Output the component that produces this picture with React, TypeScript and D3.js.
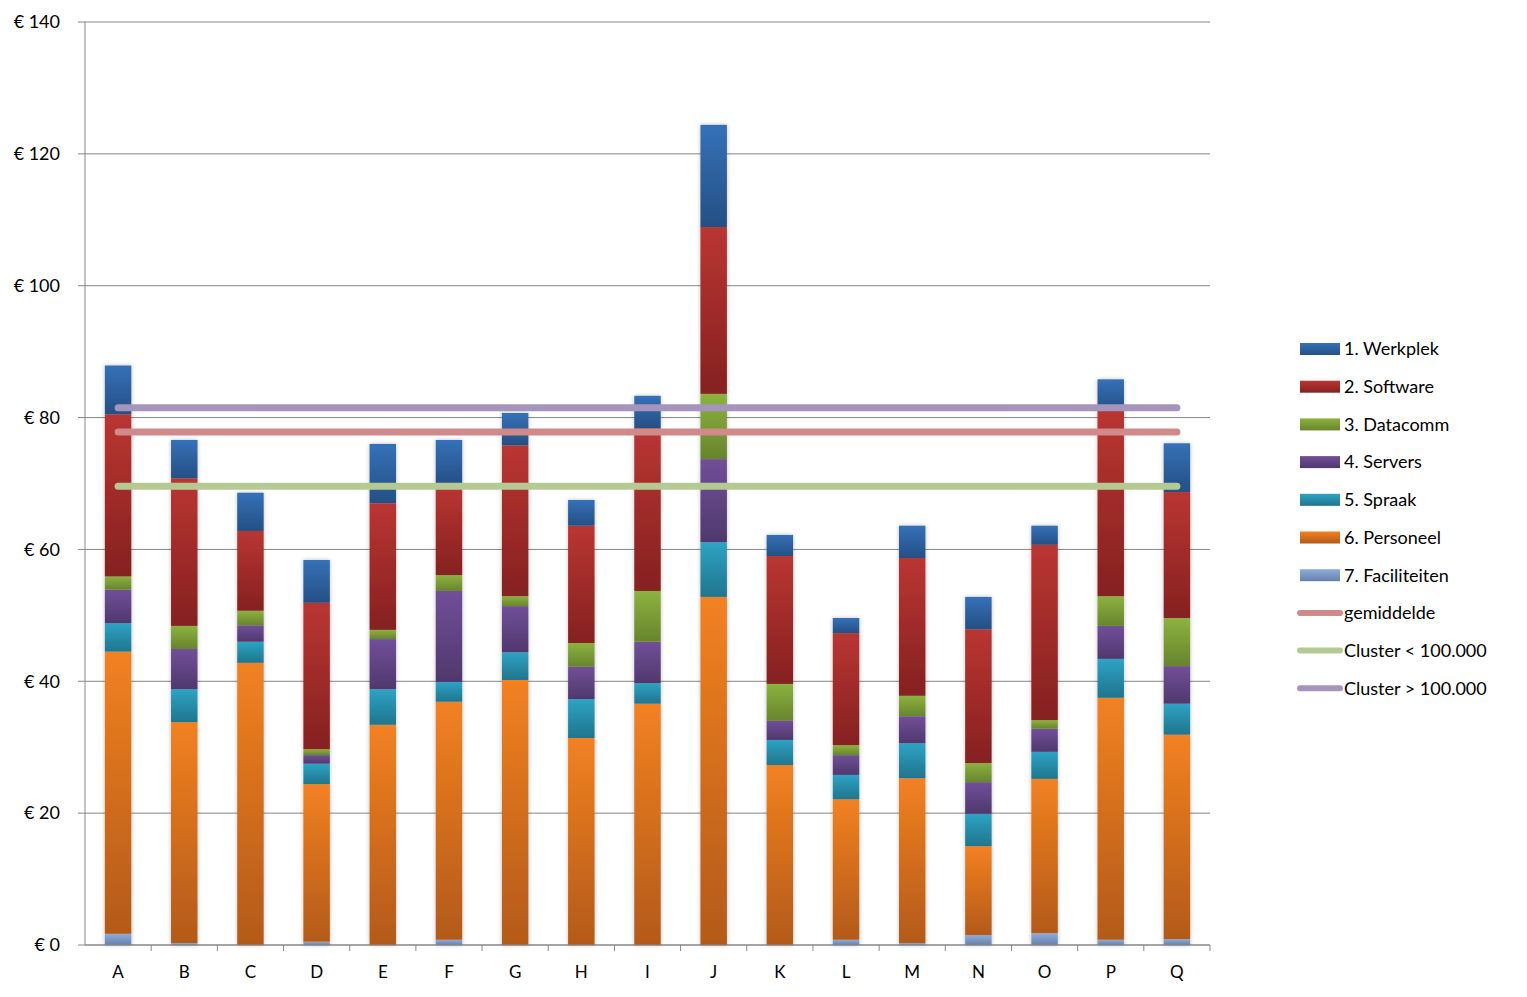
import React from "react";
import * as d3 from "d3";

const categories = ["A","B","C","D","E","F","G","H","I","J","K","L","M","N","O","P","Q"];

const faciliteiten = [1.7,0.3,0,0.5,0,0.8,0,0,0,0,0,0.8,0.3,1.5,1.8,0.8,0.9];
const personeel    = [42.8,33.5,42.8,23.9,33.4,36.1,40.2,31.4,36.6,52.8,27.3,21.3,25.0,13.5,23.4,36.7,31.0];
const spraak       = [4.3,5.0,3.2,3.1,5.4,3.0,4.2,5.9,3.1,8.3,3.8,3.7,5.3,4.9,4.1,5.9,4.7];
const servers      = [5.1,6.1,2.5,1.3,7.6,13.8,7.0,4.9,6.3,12.6,2.9,3.0,4.1,4.8,3.5,5.0,5.7];
const datacomm     = [2.0,3.5,2.2,0.9,1.4,2.4,1.5,3.6,7.7,9.9,5.6,1.5,3.1,2.9,1.3,4.5,7.3];
const software     = [24.6,22.4,12.1,22.2,19.2,13.6,22.9,17.8,24.7,25.3,19.4,17.0,20.9,20.3,26.6,28.1,19.1];
const werkplek     = [7.4,5.8,5.8,6.5,9.0,6.9,4.9,3.9,4.9,15.5,3.2,2.3,4.9,4.9,2.9,4.8,7.4];

const gemiddelde = 77.8;
const clusterKlein = 69.6;
const clusterGroot = 81.5;

const yTicks = [0,20,40,60,80,100,120,140];

// stacking order bottom -> top
const seriesDefs = [
  { key: "fac", name: "7. Faciliteiten", values: faciliteiten, top: "#8eabdb", bottom: "#6781ab" },
  { key: "pers", name: "6. Personeel", values: personeel, top: "#f28121", bottom: "#b35a19" },
  { key: "spr", name: "5. Spraak", values: spraak, top: "#2ea3c4", bottom: "#1f758d" },
  { key: "srv", name: "4. Servers", values: servers, top: "#714f99", bottom: "#4f386c" },
  { key: "dat", name: "3. Datacomm", values: datacomm, top: "#8db23f", bottom: "#67842d" },
  { key: "sw", name: "2. Software", values: software, top: "#ba3532", bottom: "#852120" },
  { key: "wp", name: "1. Werkplek", values: werkplek, top: "#3571b8", bottom: "#254f84" },
];

const lineDefs = [
  { name: "gemiddelde", value: gemiddelde, color: "#d18a8a" },
  { name: "Cluster < 100.000", value: clusterKlein, color: "#b5ca93" },
  { name: "Cluster > 100.000", value: clusterGroot, color: "#a595bc" },
];

export default function App() {
  const W = 1527, H = 997;
  const left = 85, right = 1210, top = 22, bottom = 945;
  const x = d3.scaleBand<string>().domain(categories).range([left, right]).paddingInner(0.6).paddingOuter(0.3);
  const band = d3.scaleBand<string>().domain(categories).range([left, right]).padding(0);
  const y = d3.scaleLinear().domain([0, 140]).range([bottom, top]);

  const rows = categories.map((c, i) => {
    const r: any = { cat: c };
    seriesDefs.forEach(s => (r[s.key] = s.values[i]));
    return r;
  });
  const stack = d3.stack<any>().keys(seriesDefs.map(s => s.key));
  const stacked = stack(rows);

  const font = "Lato, 'Open Sans', sans-serif";
  const legendX = 1300;
  const legendY0 = 349;
  const legendStep = 37.7;
  const legendOrder = [...seriesDefs].reverse();

  return (
    <svg width={W} height={H} style={{ position: "absolute", left: 0, top: 0, background: "#fff" }}>
      <defs>
        {seriesDefs.map(s => (
          <linearGradient key={s.key} id={"g-" + s.key} x1="0" y1="0" x2="0" y2="1">
            <stop offset="0" stopColor={s.top} />
            <stop offset="1" stopColor={s.bottom} />
          </linearGradient>
        ))}
        <filter id="shadow" x="-30%" y="-5%" width="160%" height="110%">
          <feDropShadow dx="0" dy="0" stdDeviation="2" floodColor="#000" floodOpacity="0.25" />
        </filter>
      </defs>

      {/* gridlines */}
      {yTicks.map(t => (
        <line key={t} x1={left - 7} x2={right} y1={y(t)} y2={y(t)} stroke="#868686" strokeWidth={1} />
      ))}
      {/* y axis */}
      <line x1={left} x2={left} y1={top} y2={bottom} stroke="#868686" strokeWidth={1} />
      {/* x axis ticks */}
      {categories.map((c, i) => (
        <line key={c} x1={band(c)! + band.bandwidth()} x2={band(c)! + band.bandwidth()} y1={bottom} y2={bottom + 6} stroke="#868686" />
      ))}
      {yTicks.map(t => (
        <text key={t} x={60} y={y(t)} dy="0.35em" textAnchor="end" fontFamily={font} fontSize={18} fill="#000">
          {"€ " + t}
        </text>
      ))}

      {/* bars */}
      <g filter="url(#shadow)">
        {stacked.map((layer, li) => (
          <g key={layer.key} fill={`url(#g-${seriesDefs[li].key})`}>
            {layer.map((d, i) => {
              const h = y(d[0]) - y(d[1]);
              if (h <= 0) return null;
              return <rect key={i} x={x(categories[i])!} width={x.bandwidth()} y={y(d[1])} height={h} />;
            })}
          </g>
        ))}
      </g>

      {/* x labels */}
      {categories.map(c => (
        <text key={c} x={band(c)! + band.bandwidth() / 2} y={972} dy="0.35em" textAnchor="middle" fontFamily={font} fontSize={17} fill="#000">
          {c}
        </text>
      ))}

      {/* reference lines */}
      {lineDefs.map(l => (
        <line key={l.name}
          x1={band(categories[0])! + band.bandwidth() / 2}
          x2={band(categories[categories.length - 1])! + band.bandwidth() / 2}
          y1={y(l.value)} y2={y(l.value)}
          stroke={l.color} strokeWidth={7} strokeLinecap="round" />
      ))}

      {/* x axis line on top */}
      <line x1={left} x2={right} y1={bottom} y2={bottom} stroke="#868686" strokeWidth={1} />

      {/* legend */}
      {legendOrder.map((s, i) => (
        <g key={s.key} transform={`translate(${legendX},${legendY0 + i * legendStep})`}>
          <rect x={0} y={-6} width={40} height={12} fill={`url(#g-${s.key})`} />
          <text x={44} y={0} dy="0.35em" fontFamily={font} fontSize={18} fill="#000">{s.name}</text>
        </g>
      ))}
      {lineDefs.map((l, i) => (
        <g key={l.name} transform={`translate(${legendX},${legendY0 + (7 + i) * legendStep})`}>
          <line x1={0} x2={40} y1={0} y2={0} stroke={l.color} strokeWidth={6} strokeLinecap="round" />
          <text x={44} y={0} dy="0.35em" fontFamily={font} fontSize={18} fill="#000">{l.name}</text>
        </g>
      ))}
    </svg>
  );
}
